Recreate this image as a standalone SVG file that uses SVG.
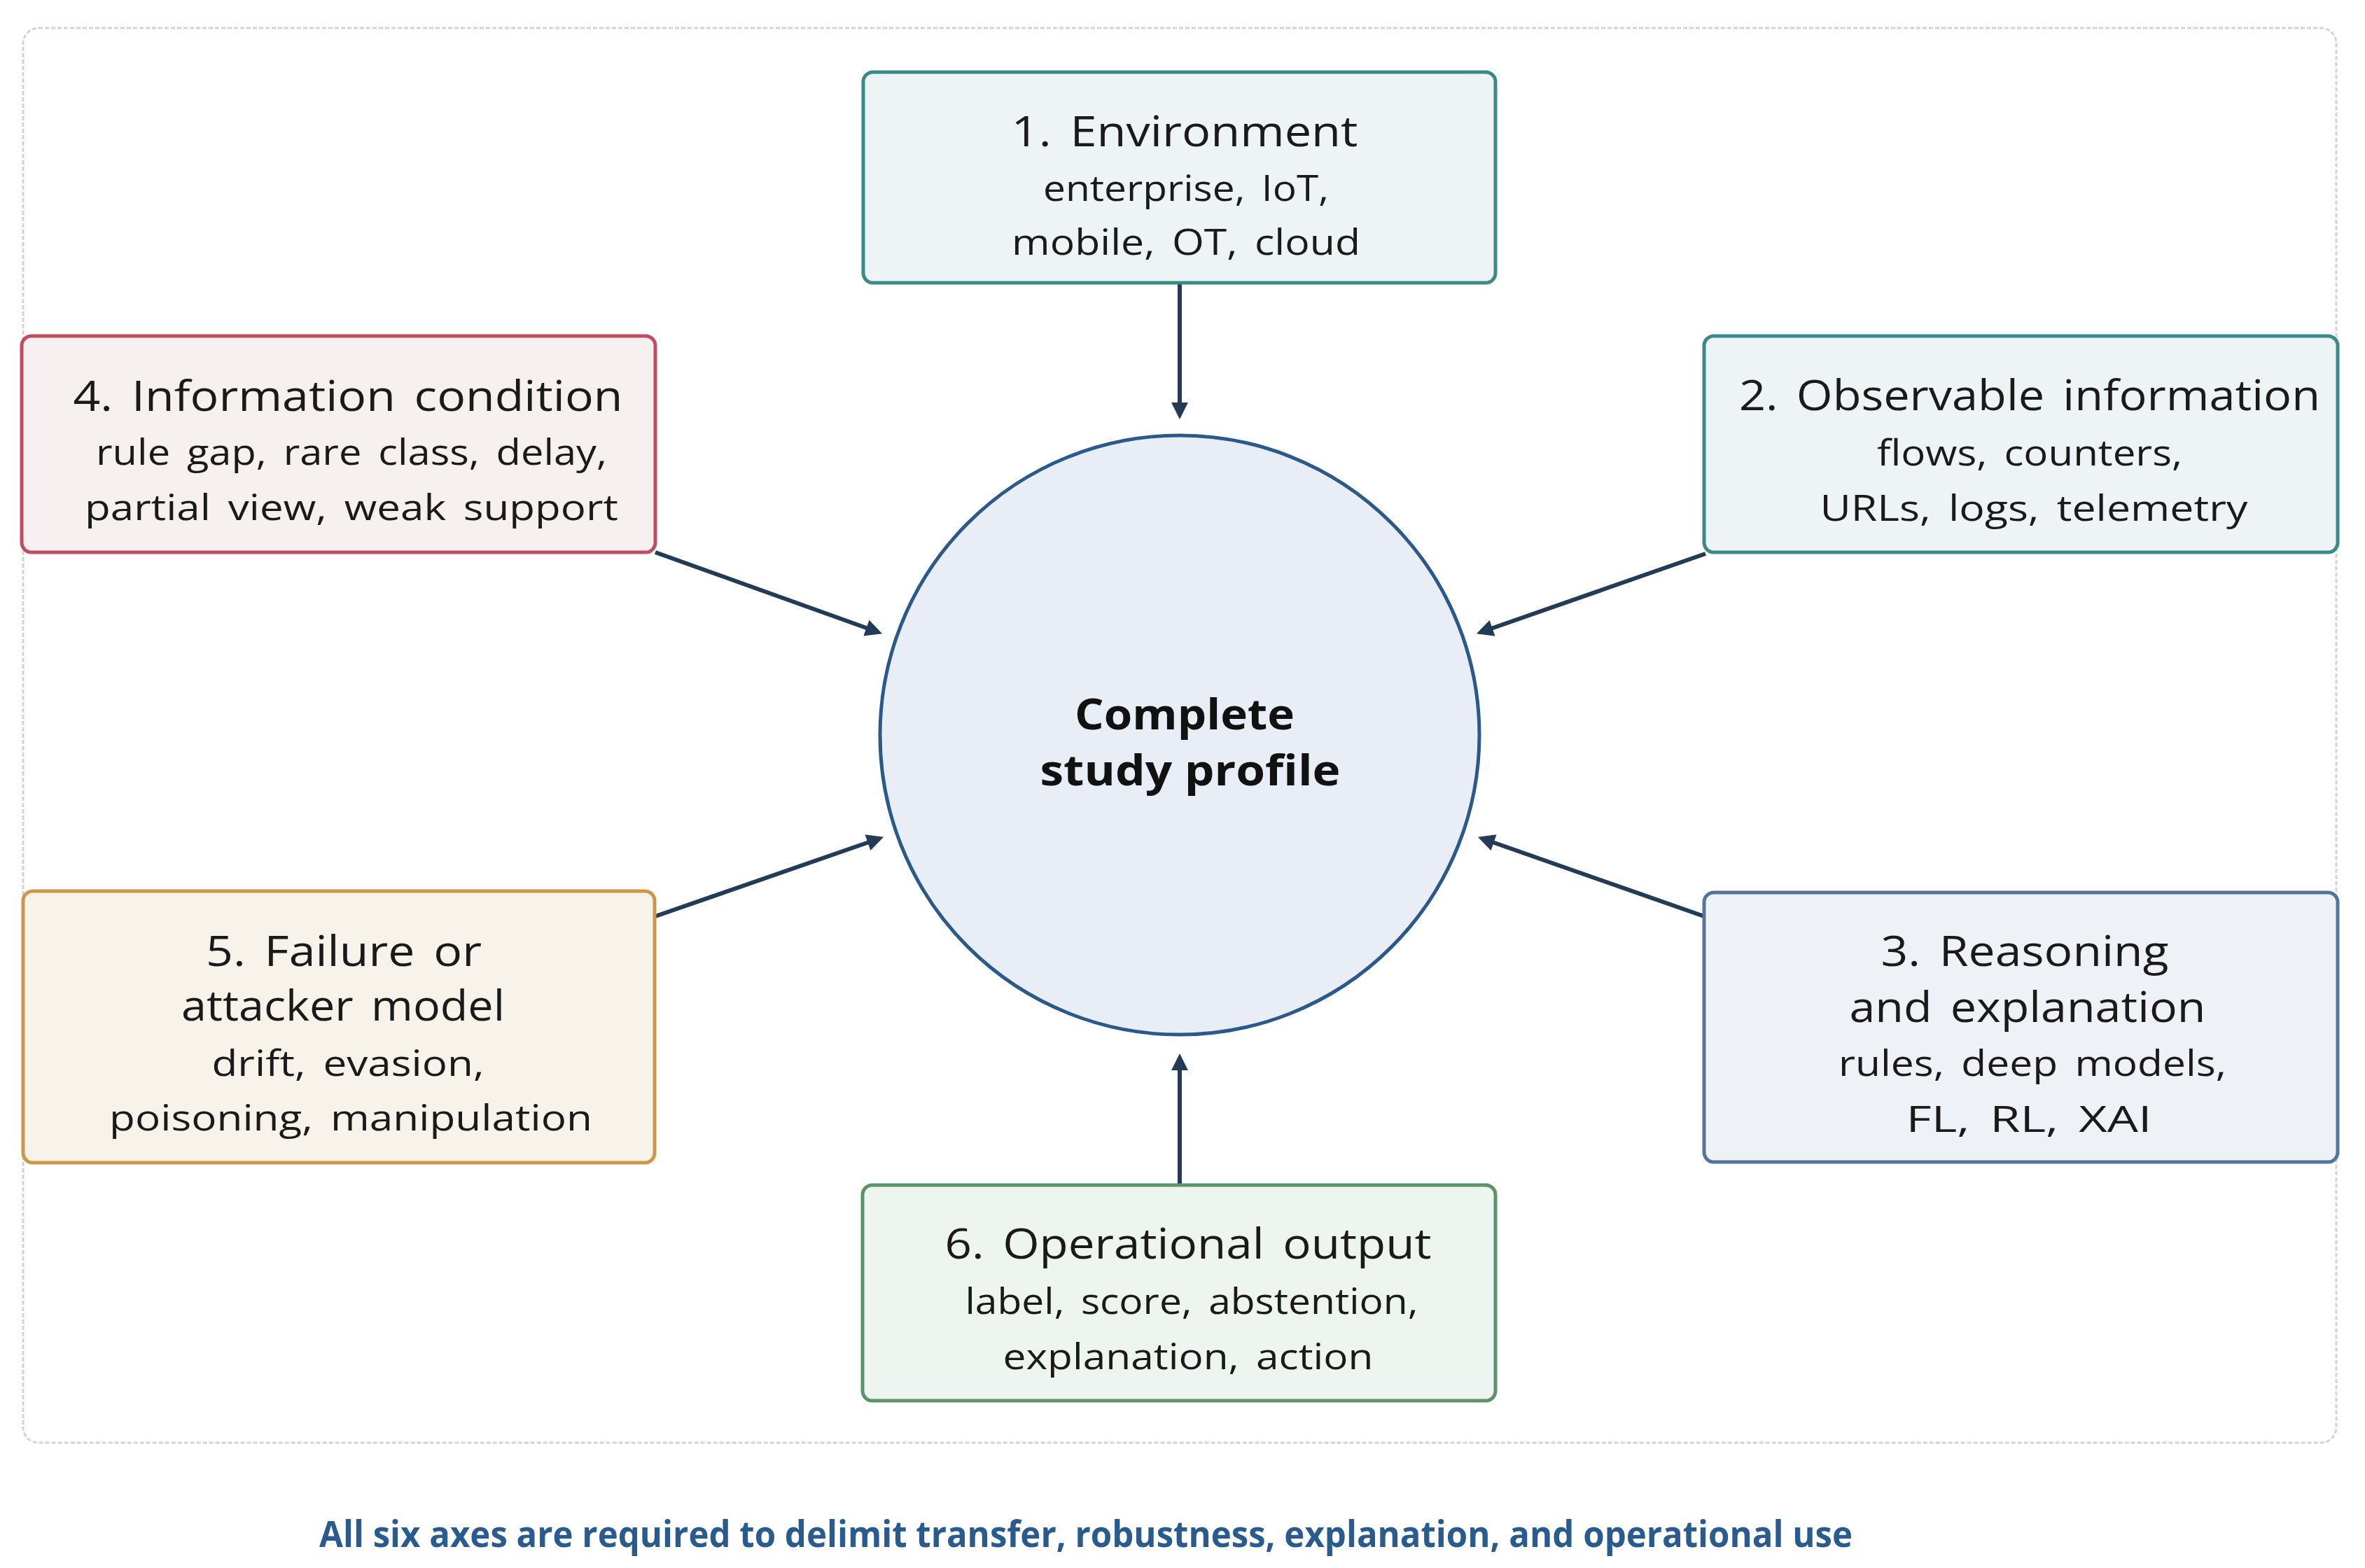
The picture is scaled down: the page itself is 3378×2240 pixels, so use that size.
<svg xmlns="http://www.w3.org/2000/svg" width="3378" height="2240" viewBox="0 0 3378 2240">
<defs>
<style>
.frame{fill:#ffffff;stroke:#d4d4d4;stroke-width:3;stroke-dasharray:6 3}
.box{stroke-width:5}
.t{font-family:"Open Sans","Noto Sans","Liberation Sans",sans-serif;fill:#1a1a1a;text-anchor:middle;word-spacing:8px}
.h{font-size:60px}
.s{font-size:52px}
.c{font-family:"Open Sans","Noto Sans","Liberation Sans",sans-serif;font-weight:700;font-size:61px;fill:#111111;text-anchor:middle}
.cap{font-family:"Open Sans","Noto Sans","Liberation Sans",sans-serif;font-weight:700;font-size:52px;fill:#2a5b8e;text-anchor:middle}
.conn{stroke:#243b55;stroke-width:6;fill:none}
</style>
<marker id="ah" viewBox="0 0 10 10" refX="3.33" refY="5" markerWidth="32" markerHeight="24" markerUnits="userSpaceOnUse" orient="auto">
<path d="M0,0 L10,5 L0,10 z" fill="#243b55"/>
</marker>
</defs>
<rect x="0" y="0" width="3378" height="2240" fill="#ffffff"/>
<rect class="frame" x="33" y="40" width="3304" height="2021" rx="22"/>

<g id="connectors">
<line class="conn" x1="1685" y1="404" x2="1685" y2="583" marker-end="url(#ah)"/>
<line class="conn" x1="1685" y1="1693" x2="1685" y2="1521" marker-end="url(#ah)"/>
<line class="conn" x1="936" y1="789" x2="1245" y2="899.8" marker-end="url(#ah)"/>
<line class="conn" x1="2436" y1="791" x2="2124" y2="900" marker-end="url(#ah)"/>
<line class="conn" x1="936" y1="1309" x2="1247" y2="1201" marker-end="url(#ah)"/>
<line class="conn" x1="2434" y1="1309" x2="2126" y2="1201" marker-end="url(#ah)"/>
</g>

<g id="center">
<circle cx="1685" cy="1050" r="428" fill="#e9eef6" stroke="#2b5a8a" stroke-width="5"/>
<text class="c" x="1692" y="1042" textLength="314" lengthAdjust="spacingAndGlyphs">Complete</text>
<text class="c" x="1700" y="1122" textLength="429" lengthAdjust="spacingAndGlyphs">study profile</text>
</g>

<g id="node1">
<rect class="box" x="1233" y="103" width="903" height="301" rx="14" fill="#eef4f6" stroke="#3a8a86"/>
<text class="t h" x="1692" y="209" textLength="495" lengthAdjust="spacingAndGlyphs">1. Environment</text>
<text class="t s" x="1694" y="287" textLength="408" lengthAdjust="spacingAndGlyphs">enterprise, IoT,</text>
<text class="t s" x="1694" y="364" textLength="498" lengthAdjust="spacingAndGlyphs">mobile, OT, cloud</text>
</g>

<g id="node2">
<rect class="box" x="2434" y="480" width="905" height="309" rx="14" fill="#eef4f6" stroke="#3a8a86"/>
<text class="t h" x="2899" y="586" textLength="830" lengthAdjust="spacingAndGlyphs">2. Observable information</text>
<text class="t s" x="2899" y="665" textLength="436" lengthAdjust="spacingAndGlyphs">flows, counters,</text>
<text class="t s" x="2905" y="744" textLength="611" lengthAdjust="spacingAndGlyphs">URLs, logs, telemetry</text>
</g>

<g id="node3">
<rect class="box" x="2434" y="1275" width="905" height="385" rx="14" fill="#eef2f7" stroke="#52759a"/>
<text class="t h" x="2892" y="1380" textLength="411" lengthAdjust="spacingAndGlyphs">3. Reasoning</text>
<text class="t h" x="2896" y="1460" textLength="509" lengthAdjust="spacingAndGlyphs">and explanation</text>
<text class="t s" x="2903" y="1537" textLength="554" lengthAdjust="spacingAndGlyphs">rules, deep models,</text>
<text class="t s" x="2898" y="1617" textLength="351" lengthAdjust="spacingAndGlyphs">FL, RL, XAI</text>
</g>

<g id="node4">
<rect class="box" x="31" y="480" width="905" height="309" rx="14" fill="#f7f0f0" stroke="#bf4d60"/>
<text class="t h" x="497" y="587" textLength="785" lengthAdjust="spacingAndGlyphs">4. Information condition</text>
<text class="t s" x="502" y="664" textLength="730" lengthAdjust="spacingAndGlyphs">rule gap, rare class, delay,</text>
<text class="t s" x="502" y="743" textLength="762" lengthAdjust="spacingAndGlyphs">partial view, weak support</text>
</g>

<g id="node5">
<rect class="box" x="33" y="1273" width="902" height="388" rx="14" fill="#f8f3ea" stroke="#cf9647"/>
<text class="t h" x="491" y="1380" textLength="394" lengthAdjust="spacingAndGlyphs">5. Failure or</text>
<text class="t h" x="490" y="1458" textLength="462" lengthAdjust="spacingAndGlyphs">attacker model</text>
<text class="t s" x="497" y="1537" textLength="389" lengthAdjust="spacingAndGlyphs">drift, evasion,</text>
<text class="t s" x="501" y="1615" textLength="690" lengthAdjust="spacingAndGlyphs">poisoning, manipulation</text>
</g>

<g id="node6">
<rect class="box" x="1232" y="1693" width="904" height="308" rx="14" fill="#eef4ef" stroke="#5b9467"/>
<text class="t h" x="1697" y="1798" textLength="695" lengthAdjust="spacingAndGlyphs">6. Operational output</text>
<text class="t s" x="1702" y="1877" textLength="647" lengthAdjust="spacingAndGlyphs">label, score, abstention,</text>
<text class="t s" x="1697" y="1956" textLength="529" lengthAdjust="spacingAndGlyphs">explanation, action</text>
</g>

<g id="caption">
<text class="cap" x="1551" y="2210" textLength="2190" lengthAdjust="spacingAndGlyphs">All six axes are required to delimit transfer, robustness, explanation, and operational use</text>
</g>
</svg>
